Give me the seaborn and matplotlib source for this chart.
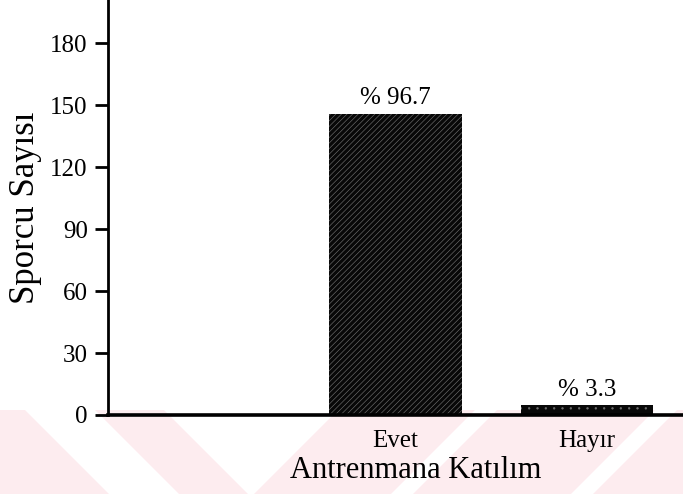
import matplotlib
matplotlib.use('Agg')
import matplotlib.pyplot as plt
import pandas as pd
import seaborn as sns

# 数据
categories = ['Evet', 'Hayır']
order = [' ', 'Evet', 'Hayır']   # 左侧空位
counts = [146, 5]
percent_labels = ['% 96.7', '% 3.3']
yticks = [0, 30, 60, 90, 120, 150, 180]

sns.set_style('white')
plt.rcParams['font.family'] = ['Liberation Serif', 'DejaVu Serif']
plt.rcParams['hatch.linewidth'] = 0.45
for key in ['text.color', 'axes.labelcolor', 'xtick.color', 'ytick.color']:
    plt.rcParams[key] = 'black'

df = pd.DataFrame({'kat': categories, 'sayi': counts})

fig = plt.figure(figsize=(6.83, 4.94), dpi=100)

# 底部粉色水印条纹（像素坐标，仅装饰）
bg = fig.add_axes([0, 0, 1, 84 / 494], zorder=0)
bg.set_xlim(0, 683)
bg.set_ylim(494, 410)
bg.axis('off')
pink = '#fdecef'
bg.fill([0, 683, 683, 0], [410, 410, 494, 494], color=pink, lw=0)
# 左侧 "\" 白条
bg.fill([25, 95, 179, 109], [410, 410, 494, 494], color='white', lw=0)
# 中间 V 形白区
bg.fill([164, 338, 254, 248], [410, 410, 494, 494], color='white', lw=0)
# 右侧 "/" 白条
for x0 in [475, 655]:
    bg.fill([x0, x0 + 22, x0 + 22 - 84, x0 - 84], [410, 410, 494, 494], color='white', lw=0)

ax = fig.add_axes([0.158, 0.16, 0.842, 0.84], zorder=1)
ax.patch.set_alpha(0)

sns.barplot(data=df, x='kat', y='sayi', order=order, color='#080808',
            width=0.69, ax=ax, saturation=1)

hatches = ['//////', '..']
for patch, h in zip(ax.patches, hatches):
    patch.set_hatch(h)
    patch.set_edgecolor('#6e6e6e')
    patch.set_linewidth(0)

for cat, val, lab in zip(categories, counts, percent_labels):
    ax.text(order.index(cat), val + 2, lab, ha='center', va='bottom', fontsize=18)

ax.set_xlim(-0.5, 2.5)
ax.set_ylim(0, 201)
ax.set_yticks(yticks)
ax.tick_params(axis='y', direction='out', length=9.5, width=2, labelsize=18, pad=5, left=True)
ax.tick_params(axis='x', length=0, labelsize=18, pad=11)
for s in ['top', 'right']:
    ax.spines[s].set_visible(False)
ax.spines['left'].set_linewidth(2)
ax.spines['bottom'].set_linewidth(2.6)
for s in ['left', 'bottom']:
    ax.spines[s].set_color('black')

ax.set_xlabel('Antrenmana Katılım', fontsize=22)
ax.xaxis.set_label_coords(0.536, -0.1)
ax.set_ylabel('Sporcu Sayısı', fontsize=25, labelpad=6)

plt.savefig('out.png', dpi=100)
plt.close()
